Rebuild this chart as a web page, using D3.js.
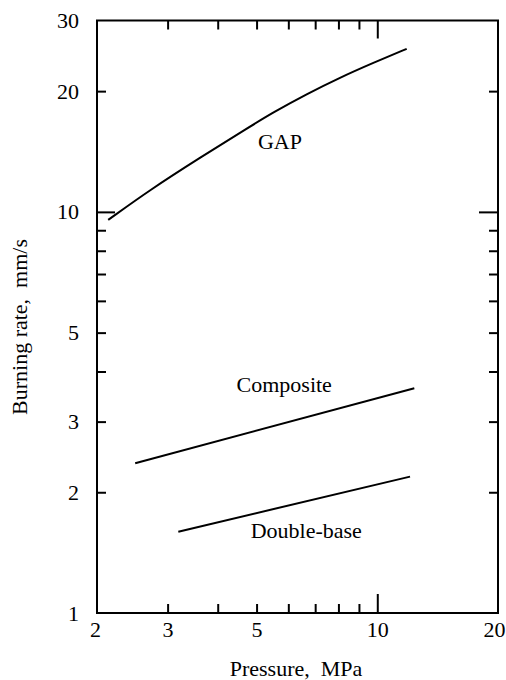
<!DOCTYPE html>
<html>
<head>
<meta charset="utf-8">
<script src="https://cdn.jsdelivr.net/npm/d3@7/dist/d3.min.js"></script>
<style>
  html, body { margin: 0; padding: 0; background: #fff; }
</style>
</head>
<body>
<svg id="chart" width="506" height="680"></svg>
<script>
// ---- data ----
const gapPressure = [2.133, 2.712, 3.613, 4.733, 5.505, 6.668, 8.072, 9.777, 11.84];
const gapRate     = [9.55, 11.35, 13.65, 16.15, 17.71, 19.66, 21.62, 23.53, 25.50];
const compPressure = [2.49, 12.37];
const compRate     = [2.363, 3.634];
const dbPressure = [3.19, 12.07];
const dbRate     = [1.595, 2.188];

const seriesNames = ["GAP", "Composite", "Double-base"];
const labelPressure = [5.72, 5.86, 6.65];
const labelRate = [14.36, 3.55, 1.536];

const xMinorTicks = [3, 4, 5, 6, 7, 8, 9];
const xMajorTicks = [10];
const xTickLabels = [2, 3, 5, 10, 20];
const yMinorTicks = [2, 3, 4, 5, 6, 7, 8, 9, 20];
const yMajorTicks = [10];
const yTickLabels = [1, 2, 3, 5, 10, 20, 30];

const xTitle = "Pressure,\u00a0\u00a0MPa";
const yTitle = "Burning\u00a0rate,\u00a0\u00a0mm/s";

// ---- layout ----
const FONT = "'Liberation Serif', 'DejaVu Serif', 'Noto Serif', serif";
const L = 97, R = 498, T = 20.5, B = 613;
const svg = d3.select("#chart");

const x = d3.scaleLog().domain([2, 20]).range([L, R]);
const y = d3.scaleLog().domain([1, 30]).range([B, T]);

// frame
svg.append("rect")
  .attr("x", L).attr("y", T).attr("width", R - L).attr("height", B - T)
  .attr("fill", "none").attr("stroke", "#000").attr("stroke-width", 2);

function tickAxis(gen, scale, values, size, transform) {
  const g = svg.append("g").attr("transform", transform)
    .call(gen(scale).tickValues(values).tickSize(size).tickFormat(""));
  g.select(".domain").remove();
  g.selectAll(".tick line").attr("stroke", "#000").attr("stroke-width", 2);
}
// bottom / top
tickAxis(d3.axisBottom, x, xMinorTicks, -9, `translate(0,${B})`);
tickAxis(d3.axisBottom, x, xMajorTicks, -19, `translate(0,${B})`);
tickAxis(d3.axisTop, x, xMinorTicks, -9, `translate(0,${T})`);
tickAxis(d3.axisTop, x, xMajorTicks, -18, `translate(0,${T})`);
// left / right
tickAxis(d3.axisLeft, y, yMinorTicks, -9, `translate(${L},0)`);
tickAxis(d3.axisLeft, y, yMajorTicks, -18, `translate(${L},0)`);
tickAxis(d3.axisRight, y, yMinorTicks, -9, `translate(${R},0)`);
tickAxis(d3.axisRight, y, yMajorTicks, -19, `translate(${R},0)`);

// tick labels
const xl = svg.append("g").attr("transform", `translate(0,${B})`)
  .call(d3.axisBottom(x).tickValues(xTickLabels).tickSize(0).tickPadding(8).tickFormat(d3.format("d")));
xl.attr("font-family", FONT).attr("font-size", 22);
xl.select(".domain").remove();
xl.selectAll("text").attr("fill", "#000").attr("dx", d => d === 20 ? -4 : (d === 2 ? -2 : 0));

const yl = svg.append("g").attr("transform", `translate(${L},0)`)
  .call(d3.axisLeft(y).tickValues(yTickLabels).tickSize(0).tickPadding(18).tickFormat(d3.format("d")));
yl.attr("font-family", FONT).attr("font-size", 22);
yl.select(".domain").remove();
yl.selectAll("text").attr("fill", "#000");

// axis titles
svg.append("text").attr("x", 296).attr("y", 676).attr("text-anchor", "middle")
  .attr("font-family", FONT).attr("font-size", 22).text(xTitle);
svg.append("text").attr("transform", "translate(27,327) rotate(-90)")
  .attr("text-anchor", "middle").attr("font-family", FONT).attr("font-size", 22).text(yTitle);

// lines
const line = d3.line().x(d => x(d[0])).y(d => y(d[1])).curve(d3.curveBasis);
const series = [
  d3.zip(gapPressure, gapRate),
  d3.zip(compPressure, compRate),
  d3.zip(dbPressure, dbRate)
];
svg.append("g").selectAll("path").data(series).join("path")
  .attr("d", line).attr("fill", "none").attr("stroke", "#000").attr("stroke-width", 2);

// series labels
svg.append("g").selectAll("text").data(seriesNames).join("text")
  .attr("x", (d, i) => x(labelPressure[i]))
  .attr("y", (d, i) => y(labelRate[i]))
  .attr("text-anchor", "middle").attr("font-family", FONT).attr("font-size", 22).text(d => d);
</script>
</body>
</html>
